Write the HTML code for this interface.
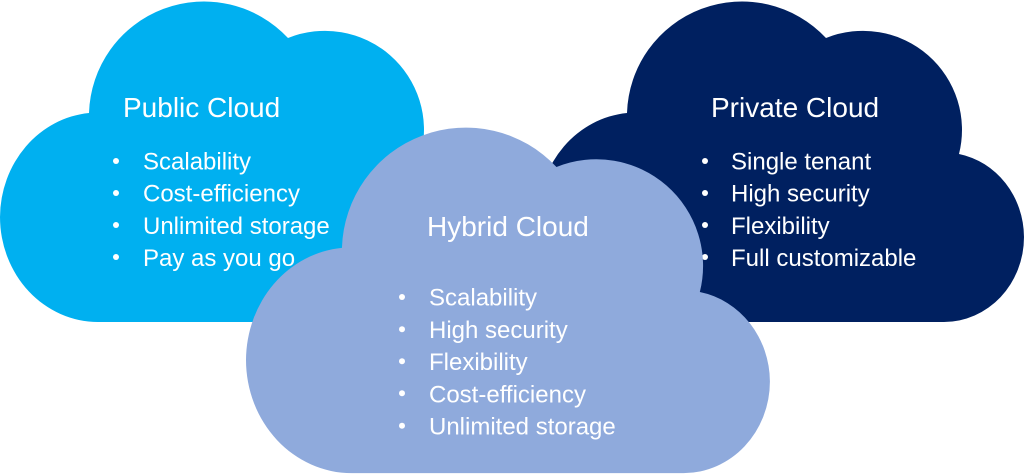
<!DOCTYPE html>
<html>
<head>
<meta charset="utf-8">
<style>
  html, body { margin: 0; padding: 0; background: #ffffff; }
  body { width: 1024px; height: 474px; overflow: hidden; }
  svg { display: block; }
  text { font-family: "Liberation Sans", Arial, sans-serif; fill: #ffffff; }
  .t { font-size: 28px; }
  .i { font-size: 24px; }
</style>
</head>
<body>
<svg width="1024" height="474" viewBox="0 0 1024 474" xmlns="http://www.w3.org/2000/svg">
  <defs>
    <path id="cloud" d="M98,322 A98,105 0 0 1 0,217 A98,105 0 0 1 89,113 A115,115 0 0 1 288,38 A99,99 0 0 1 421,154 A80,85 0 0 1 486,237 A80,85 0 0 1 406,322 Z"/>
  </defs>

  <!-- Public cloud -->
  <use href="#cloud" fill="#00B0F0"/>
  <!-- Private cloud -->
  <use href="#cloud" fill="#002060" transform="translate(538,0)"/>

  <!-- Public text -->
  <text class="t" x="123" y="117">Public Cloud</text>
  <g fill="#ffffff">
    <circle cx="116" cy="161" r="3"/>
    <circle cx="116" cy="193" r="3"/>
    <circle cx="116" cy="225" r="3"/>
    <circle cx="116" cy="257" r="3"/>
  </g>
  <text class="i" x="143" y="169.5">Scalability</text>
  <text class="i" x="143" y="201.7">Cost-efficiency</text>
  <text class="i" x="143" y="233.9">Unlimited storage</text>
  <text class="i" x="143" y="266">Pay as you go</text>

  <!-- Private text -->
  <text class="t" x="711" y="117">Private Cloud</text>
  <g fill="#ffffff">
    <circle cx="705" cy="161" r="3"/>
    <circle cx="705" cy="193" r="3"/>
    <circle cx="705" cy="225" r="3"/>
    <circle cx="705" cy="257" r="3"/>
  </g>
  <text class="i" x="731" y="169.5">Single tenant</text>
  <text class="i" x="731" y="201.7">High security</text>
  <text class="i" x="731" y="233.9">Flexibility</text>
  <text class="i" x="731" y="266">Full customizable</text>

  <!-- Hybrid cloud -->
  <use href="#cloud" fill="#8FAADC" transform="translate(246,126) scale(1.078)"/>

  <!-- Hybrid text -->
  <text class="t" x="427" y="236">Hybrid Cloud</text>
  <g fill="#ffffff">
    <circle cx="402" cy="297" r="3"/>
    <circle cx="402" cy="329.3" r="3"/>
    <circle cx="402" cy="361.3" r="3"/>
    <circle cx="402" cy="393.3" r="3"/>
    <circle cx="402" cy="425.7" r="3"/>
  </g>
  <text class="i" x="429" y="305.5">Scalability</text>
  <text class="i" x="429" y="337.8">High security</text>
  <text class="i" x="429" y="370">Flexibility</text>
  <text class="i" x="429" y="402.3">Cost-efficiency</text>
  <text class="i" x="429" y="434.5">Unlimited storage</text>
</svg>
</body>
</html>
